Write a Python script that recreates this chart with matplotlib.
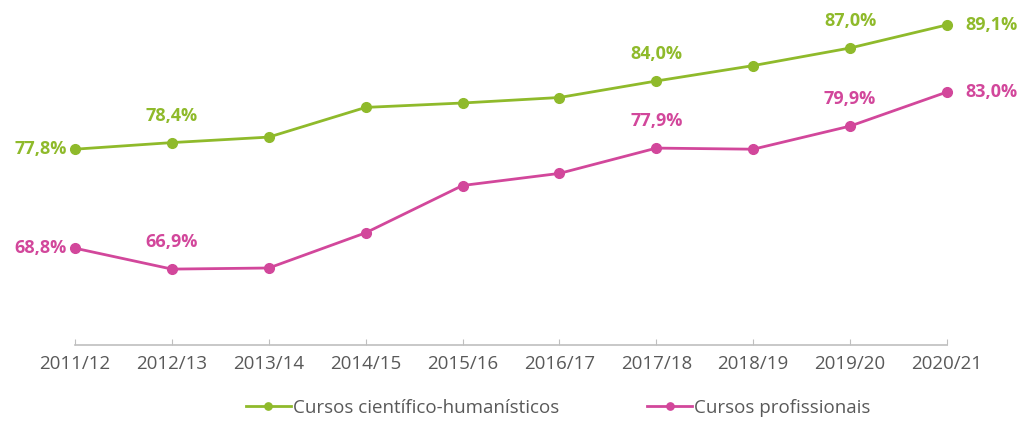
import numpy as np
import matplotlib.pyplot as plt

##---- Data ----##

anos = ["2011/12", "2012/13", "2013/14", "2014/15", "2015/16",
        "2016/17", "2017/18", "2018/19", "2019/20", "2020/21"]
cientifico = [77.8, 78.4, 78.9, 81.6, 82.0, 82.5, 84.0, 85.4, 87.0, 89.1]
profissional = [68.8, 66.9, 67.0, 70.2, 74.5, 75.6, 77.9, 77.8, 79.9, 83.0]

# indices des points annotés, et position du texte
lab_cientifico = {0: "left", 1: "top", 6: "top", 8: "top", 9: "right"}
lab_profissional = {0: "left", 1: "top", 6: "top", 8: "top", 9: "right"}

verde = "#8fba2b"
rosa = "#d2479b"
cinza = "#595959"

plt.rcParams['font.family'] = ['Open Sans', 'DejaVu Sans']

fig = plt.figure(figsize=(10.26, 4.21), dpi=100)
ax = fig.add_axes([75 / 1026, 1 - 345 / 421, (947 - 75) / 1026, 330 / 421])

x = np.arange(len(anos))
ax.plot(x, cientifico, color=verde, lw=2, marker="o", ms=7, label="Cursos científico-humanísticos")
ax.plot(x, profissional, color=rosa, lw=2, marker="o", ms=7, label="Cursos profissionais")


def annotate(values, labels, color):
    for i, pos in labels.items():
        txt = "{:.1f}%".format(values[i]).replace(".", ",")
        if pos == "left":
            ax.annotate(txt, (x[i], values[i]), xytext=(-6, 0), textcoords="offset points",
                        ha="right", va="center", color=color, fontsize=13, fontweight="bold")
        elif pos == "right":
            ax.annotate(txt, (x[i], values[i]), xytext=(13, 0), textcoords="offset points",
                        ha="left", va="center", color=color, fontsize=13, fontweight="bold")
        else:
            ax.annotate(txt, (x[i], values[i]), xytext=(0, 13), textcoords="offset points",
                        ha="center", va="bottom", color=color, fontsize=13, fontweight="bold")


annotate(cientifico, lab_cientifico, verde)
annotate(profissional, lab_profissional, rosa)

ax.set_xlim(0, len(anos) - 1)
ax.set_ylim(60, 90)
ax.set_xticks(x)
ax.set_xticklabels(anos)
ax.tick_params(axis="x", colors="#bfbfbf", labelcolor=cinza, labelsize=13.5, length=4,
               direction="in", pad=7)
ax.set_yticks([])
for s in ["top", "right", "left"]:
    ax.spines[s].set_visible(False)
ax.spines["bottom"].set_color("#bfbfbf")
ax.spines["bottom"].set_linewidth(1.2)
for line in ax.lines:
    line.set_clip_on(False)

fig.legend(loc="center", bbox_to_anchor=(0.544, 1 - 408 / 421), ncol=2, frameon=False,
           fontsize=13.5, labelcolor=cinza, handlelength=2.4, columnspacing=4.7, handletextpad=0.1,
           markerscale=0.75)

fig.savefig("out.png", dpi=100)
